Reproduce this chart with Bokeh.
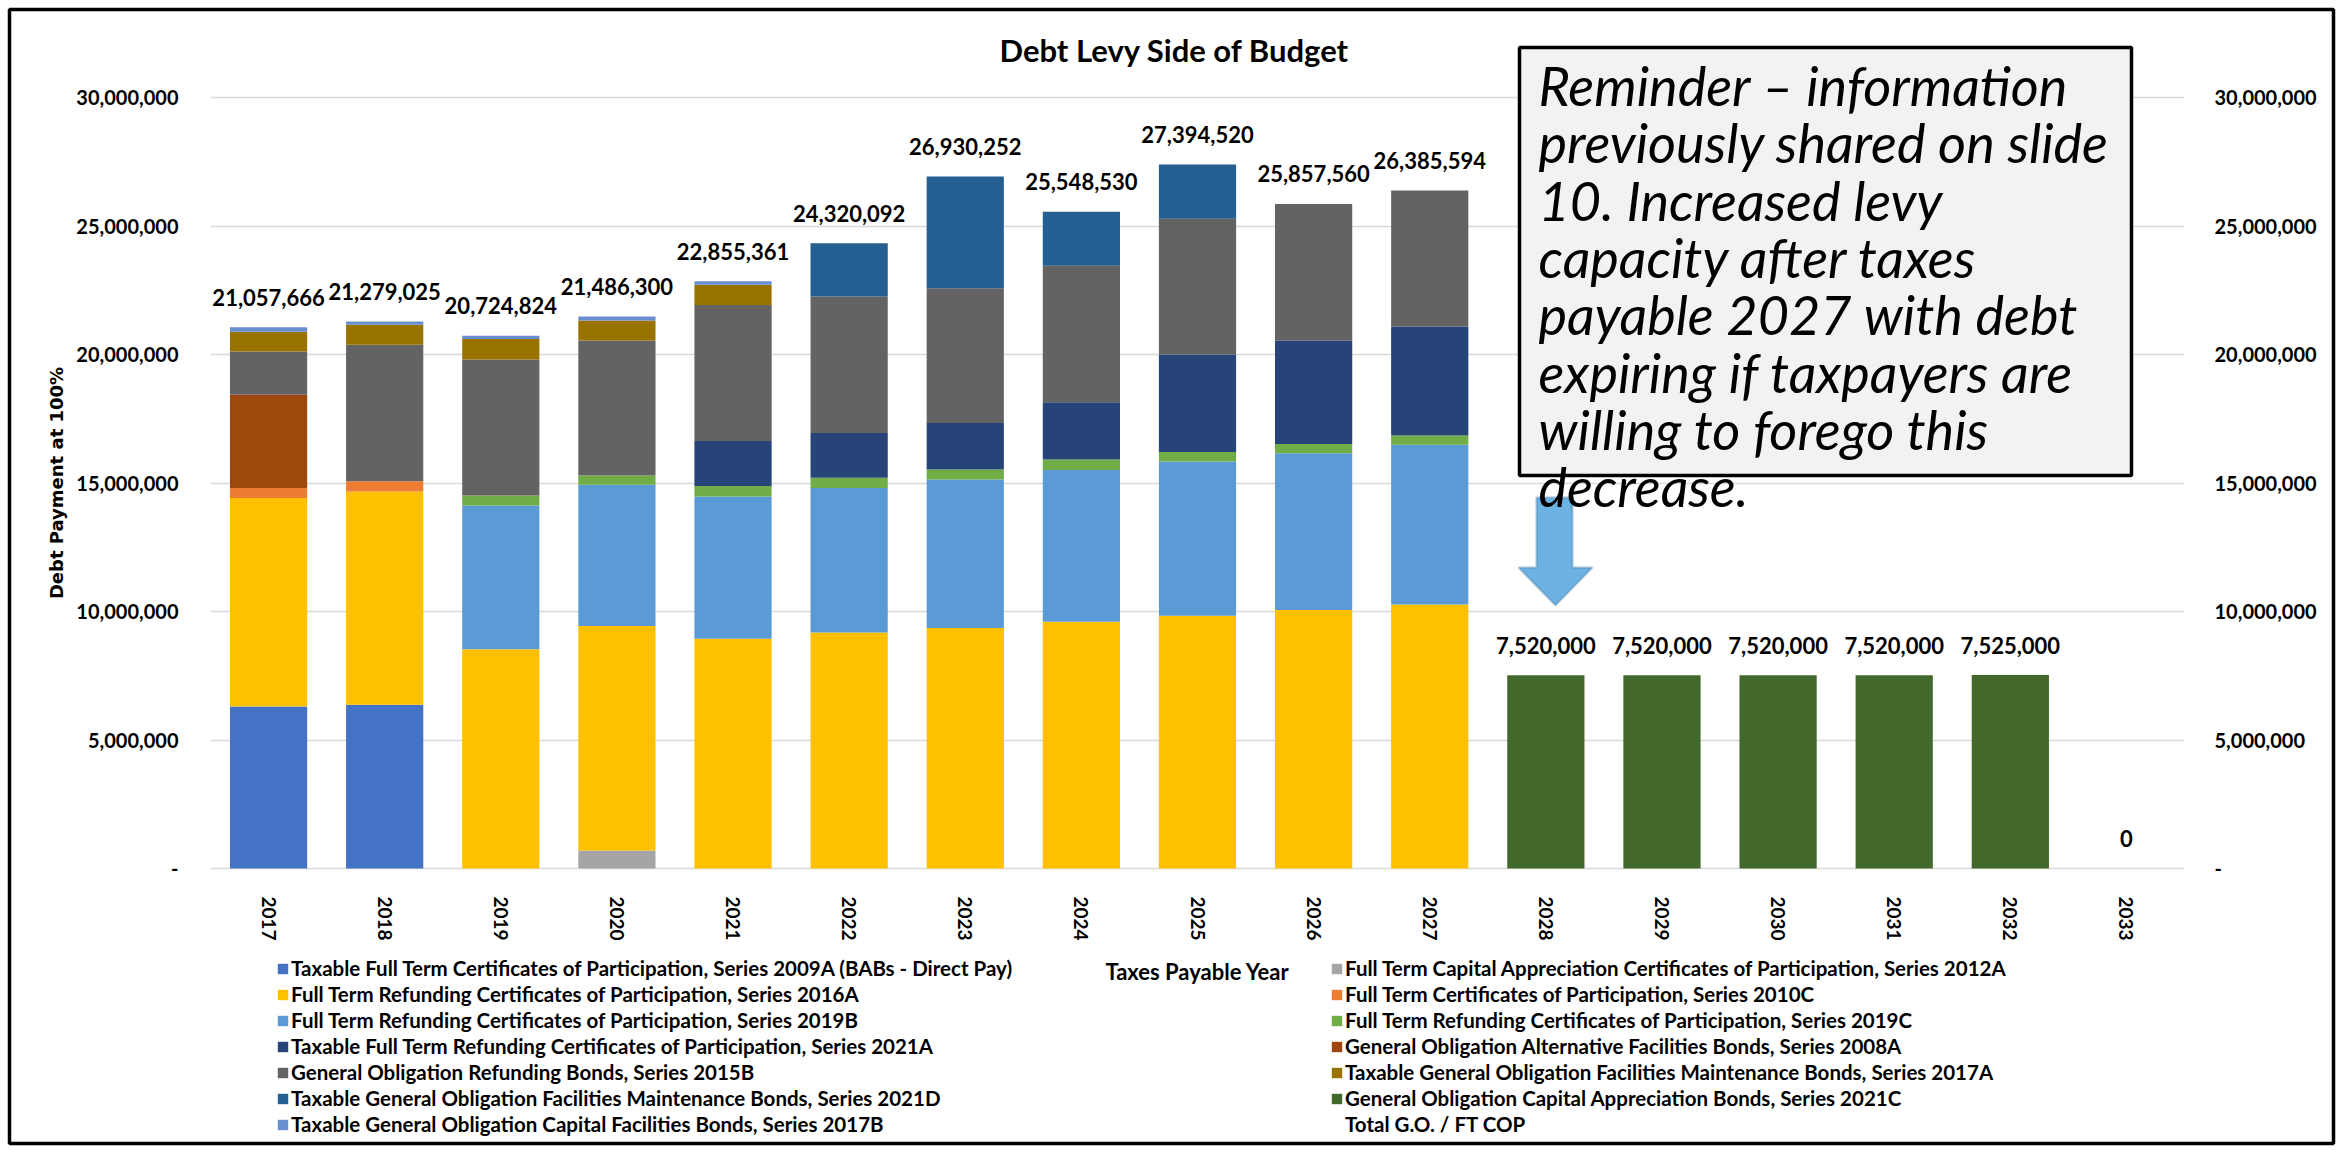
from bokeh.plotting import figure
from bokeh.models import (ColumnDataSource, FixedTicker, NumeralTickFormatter, LinearAxis, Grid,
                          Legend, LegendItem, Label, BoxAnnotation, PolyAnnotation, Range1d)
from bokeh.embed import file_html
from bokeh.resources import INLINE
from bokeh.core.properties import value

# ---------------- data ----------------
years = [2017, 2018, 2019, 2020, 2021, 2022, 2023, 2024, 2025,
         2026, 2027, 2028, 2029, 2030, 2031, 2032, 2033]

series_labels = [
    "Taxable Full Term Certificates of Participation, Series 2009A (BABs - Direct Pay)",
    "Full Term Capital Appreciation Certificates of Participation, Series 2012A",
    "Full Term Refunding Certificates of Participation, Series 2016A",
    "Full Term Certificates of Participation, Series 2010C",
    "Full Term Refunding Certificates of Participation, Series 2019B",
    "Full Term Refunding Certificates of Participation, Series 2019C",
    "Taxable Full Term Refunding Certificates of Participation, Series 2021A",
    "General Obligation Alternative Facilities Bonds, Series 2008A",
    "General Obligation Refunding Bonds, Series 2015B",
    "Taxable General Obligation Facilities Maintenance Bonds, Series 2017A",
    "Taxable General Obligation Facilities Maintenance Bonds, Series 2021D",
    "General Obligation Capital Appreciation Bonds, Series 2021C",
    "Taxable General Obligation Capital Facilities Bonds, Series 2017B",
]
total_label = "Total G.O. / FT COP"

series_colors = ["#4472C4", "#A5A5A5", "#FFC000", "#ED7D31", "#5B9BD5", "#70AD47",
                 "#264478", "#9E480E", "#636363", "#997300", "#255E91", "#43682B", "#698ED0"]

s2009A = [6300000, 6370000, 0, 0, 0, 0, 0, 0, 0, 0, 0, 0, 0, 0, 0, 0, 0]
s2012A = [0, 0, 0, 700000, 0, 0, 0, 0, 0, 0, 0, 0, 0, 0, 0, 0, 0]
s2016A = [8120000, 8300000, 8530000, 8740000, 8940000, 9180000, 9360000, 9600000, 9830000,
          10060000, 10270000, 0, 0, 0, 0, 0, 0]
s2010C = [390000, 400000, 0, 0, 0, 0, 0, 0, 0, 0, 0, 0, 0, 0, 0, 0, 0]
s2019B = [0, 0, 5590000, 5490000, 5530000, 5630000, 5780000, 5910000, 6010000,
          6100000, 6220000, 0, 0, 0, 0, 0, 0]
s2019C = [0, 0, 390000, 360000, 410000, 390000, 390000, 400000, 370000,
          360000, 360000, 0, 0, 0, 0, 0, 0]
s2021A = [0, 0, 0, 0, 1750000, 1750000, 1800000, 2230000, 3790000,
          4020000, 4240000, 0, 0, 0, 0, 0, 0]
s2008A = [3620000, 0, 0, 0, 0, 0, 0, 0, 0, 0, 0, 0, 0, 0, 0, 0, 0]
s2015B = [1690000, 5310000, 5300000, 5250000, 5300000, 5310000, 5250000, 5310000, 5280000,
          5320000, 5290000, 0, 0, 0, 0, 0, 0]
s2017A = [770000, 780000, 790000, 780000, 780000, 0, 0, 0, 0, 0, 0, 0, 0, 0, 0, 0, 0]
s2021D = [0, 0, 0, 0, 0, 2070000, 4350000, 2100000, 2110000, 0, 0, 0, 0, 0, 0, 0, 0]
s2021C = [0, 0, 0, 0, 0, 0, 0, 0, 0, 0, 0, 7520000, 7520000, 7520000, 7520000, 7525000, 0]
s2017B = [170000, 120000, 130000, 160000, 140000, 0, 0, 0, 0, 0, 0, 0, 0, 0, 0, 0, 0]

totals = [21057666, 21279025, 20724824, 21486300, 22855361, 24320092, 26930252, 25548530,
          27394520, 25857560, 26385594, 7520000, 7520000, 7520000, 7520000, 7525000, 0]

y_ticks = [0, 5000000, 10000000, 15000000, 20000000, 25000000, 30000000]

note_lines = ["Reminder \u2013 information", "previously shared on slide", "10. Increased levy",
              "capacity after taxes", "payable 2027 with debt", "expiring if taxpayers are",
              "willing to forego this", "decrease."]

series_keys = ["s2009A", "s2012A", "s2016A", "s2010C", "s2019B", "s2019C", "s2021A",
               "s2008A", "s2015B", "s2017A", "s2021D", "s2021C", "s2017B"]
series_values = [s2009A, s2012A, s2016A, s2010C, s2019B, s2019C, s2021A,
                 s2008A, s2015B, s2017A, s2021D, s2021C, s2017B]

# ---------------- page geometry (pixels) ----------------
W, H = 2348, 1150
FL, FR, FT, FB = 210, 2184, 97, 868      # plot area of the chart
YMAX = 30000000
CW = (FR - FL) / len(years)              # pixels per year slot
X0 = FL + CW / 2                          # pixel centre of first year


def xd(px):
    return years[0] + (px - X0) / CW


def yd(py):
    return (FB - py) / (FB - FT) * YMAX


CAL = "Lato"
VER = "DejaVu Sans"

p = figure(x_range=Range1d(xd(0), xd(W)), y_range=Range1d(yd(H), yd(0)),
           width=W, height=H, output_backend="svg", toolbar_location=None, title=None,
           x_axis_location=None, y_axis_location=None,
           min_border_left=0, min_border_right=0, min_border_top=0, min_border_bottom=0)
p.outline_line_color = None
p.background_fill_color = "white"
p.border_fill_color = "white"
p.xgrid.visible = False
p.ygrid.visible = False

# gridlines
if "cross_bounds" in Grid.properties():
    g = Grid(dimension=1, ticker=FixedTicker(ticks=y_ticks), grid_line_color="#D9D9D9",
             grid_line_width=1.5)
    g.cross_bounds = (xd(FL), xd(FR))
    p.add_layout(g)
else:
    p.segment(x0=[xd(FL)] * len(y_ticks), x1=[xd(FR)] * len(y_ticks), y0=y_ticks, y1=y_ticks,
              line_color="#D9D9D9", line_width=1.5)

data = {"year": years}
for k, v in zip(series_keys, series_values):
    data[k] = v
source = ColumnDataSource(data)

bars = p.vbar_stack(series_keys, x="year", width=0.665, source=source,
                    fill_color=series_colors, line_color=None)

lab_src = ColumnDataSource(dict(year=years, total=totals,
                                text=[f"{v:,}" for v in totals]))
txt = p.text(x="year", y="total", text="text", source=lab_src, text_align="center",
             text_baseline="middle", y_offset=-30, text_font=value(CAL),
             text_font_style="bold", text_font_size="22px", text_color="black")

# x axis (at y = 0)
xa = LinearAxis(fixed_location=0, ticker=FixedTicker(ticks=years), bounds=(xd(FL), xd(FR)))
xa.major_label_orientation = "vertical"
xa.axis_line_color = None
xa.major_tick_line_color = None
xa.minor_tick_line_color = None
xa.major_label_standoff = 22
xa.major_label_text_font = CAL
xa.major_label_text_font_style = "bold"
xa.major_label_text_font_size = "19px"
xa.major_label_text_color = "black"
xa.axis_label = "Taxes Payable Year"
xa.axis_label_standoff = 14
xa.axis_label_text_font = CAL
xa.axis_label_text_font_style = "bold"
xa.axis_label_text_font_size = "22px"
xa.axis_label_text_color = "black"
p.add_layout(xa, "below")


def y_axis(loc, standoff):
    a = LinearAxis(fixed_location=loc, ticker=FixedTicker(ticks=y_ticks),
                   formatter=NumeralTickFormatter(format="0,0"), bounds=(0, YMAX))
    a.major_label_overrides = {0: "-"}
    a.axis_line_color = None
    a.major_tick_line_color = None
    a.minor_tick_line_color = None
    a.major_label_standoff = standoff
    a.major_label_text_font = CAL
    a.major_label_text_font_style = "bold"
    a.major_label_text_font_size = "20px"
    a.major_label_text_color = "black"
    return a


ya = y_axis(xd(FL), 26)
ya.axis_label = "Debt Payment at 100%"
ya.axis_label_standoff = 6
ya.axis_label_text_font = VER
ya.axis_label_text_font_style = "bold"
ya.axis_label_text_font_size = "18px"
ya.axis_label_text_color = "black"
p.add_layout(ya, "left")
p.add_layout(y_axis(xd(FR), 24), "right")

# legends (two columns)
left_items = [LegendItem(label=series_labels[i], renderers=[bars[i]]) for i in range(0, 13, 2)]
right_items = [LegendItem(label=series_labels[i], renderers=[bars[i]]) for i in range(1, 13, 2)]
right_items.append(LegendItem(label=total_label, renderers=[txt]))

ROW_H, ROW_GAP = 24, 2
for items, lx in [(left_items, 276), (right_items, 1330)]:
    lg = Legend(items=items)
    lg.orientation = "vertical"
    lg.background_fill_alpha = 0
    lg.border_line_color = None
    lg.padding = 0
    lg.margin = 0
    lg.spacing = ROW_GAP
    lg.glyph_width = 13
    lg.glyph_height = 13
    lg.label_standoff = 2
    lg.label_height = ROW_H
    lg.label_text_font = CAL
    lg.label_text_font_style = "bold"
    lg.label_text_font_size = "20.5px"
    lg.label_text_color = "black"
    lg.label_text_baseline = "middle"
    n = len(items)
    top = 968 - ROW_H / 2
    height = n * ROW_H + (n - 1) * ROW_GAP
    lg.location = (lx, H - (top + height))
    p.add_layout(lg)

# title
p.add_layout(Label(x=xd(1174), y=yd(49), text="Debt Levy Side of Budget", text_align="center",
                   text_baseline="middle", text_font=CAL, text_font_style="bold",
                   text_font_size="31px", text_color="black"))

# arrow
ax = [1536, 1572, 1572, 1592, 1555, 1518, 1536]
ay = [497, 497, 567, 567, 605, 567, 567]
p.add_layout(PolyAnnotation(xs=[xd(v) for v in ax], ys=[yd(v) for v in ay],
                            fill_color="#6CB2E3", fill_alpha=1, line_color="#41719C",
                            line_width=2.5))

# note box
p.add_layout(BoxAnnotation(left=xd(1519), right=xd(2131), top=yd(47), bottom=yd(475),
                           fill_color="#F2F2F2", fill_alpha=1, line_color="black",
                           line_width=3.5, line_alpha=1))
for i, line in enumerate(note_lines):
    p.add_layout(Label(x=xd(1538), y=yd(85 + 57.3 * i), text=line, text_align="left",
                       text_baseline="middle", text_font=CAL, text_font_style="italic",
                       text_font_size="54px", text_color="black"))

# outer frame
p.add_layout(BoxAnnotation(left=xd(9), right=xd(2333), top=yd(9), bottom=yd(1143),
                           fill_alpha=0, line_color="black", line_width=3.5, line_alpha=1))

open("out.html", "w").write(file_html(p, INLINE))
